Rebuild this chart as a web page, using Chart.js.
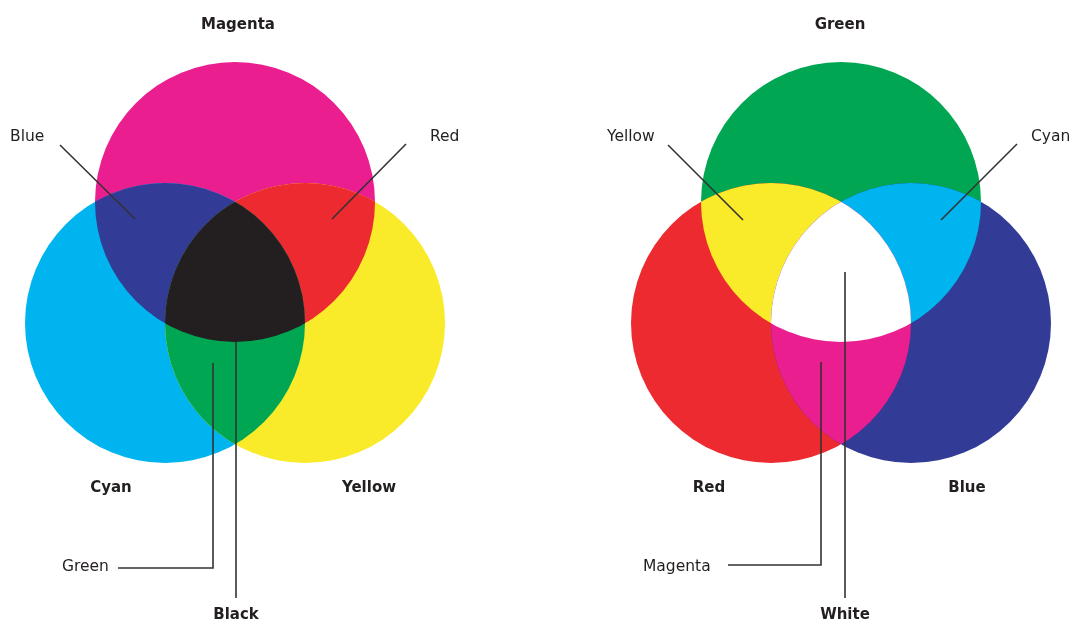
<!DOCTYPE html>
<html>
<head>
<meta charset="utf-8">
<script src="https://cdn.jsdelivr.net/npm/chart.js@4/dist/chart.umd.min.js"></script>
<style>
html,body{margin:0;padding:0;background:#fff;}
#wrap{width:1073px;height:624px;position:relative;}
</style>
</head>
<body>
<div id="wrap"><canvas id="c"></canvas></div>
<script>
// ---- Data ----
// Circles (centers and radius in chart units)
const circleNames = ['Magenta', 'Cyan', 'Yellow', 'Green', 'Red', 'Blue'];
const circleX = [235, 165, 305, 841, 771, 911];
const circleY = [202, 323, 323, 202, 323, 323];
const circleR = [140, 140, 140, 140, 140, 140];
const circleColors = ['#EA1E8E', '#00B5EF', '#F9EB2A', '#00A651', '#EC2A30', '#323B96'];

// Overlaps: indices of circles and the mixed colour
const overlapSets = [[0, 1], [0, 2], [1, 2], [0, 1, 2], [3, 4], [3, 5], [4, 5], [3, 4, 5]];
const overlapNames = ['Blue', 'Red', 'Green', 'Black', 'Yellow', 'Cyan', 'Magenta', 'White'];
const overlapColors = ['#323B96', '#EC2A30', '#00A651', '#231F20', '#F9EB2A', '#00B5EF', '#EA1E8E', '#FFFFFF'];

// Leader lines
const leaderBlue    = [{x: 60, y: 145}, {x: 135, y: 219}];
const leaderRed     = [{x: 406, y: 144}, {x: 332, y: 219}];
const leaderGreen   = [{x: 213, y: 363}, {x: 213, y: 568}, {x: 118, y: 568}];
const leaderBlack   = [{x: 236, y: 342}, {x: 236, y: 598}];
const leaderYellow  = [{x: 668, y: 145}, {x: 743, y: 220}];
const leaderCyan    = [{x: 1017, y: 144}, {x: 941, y: 220}];
const leaderMagenta = [{x: 821, y: 362}, {x: 821, y: 565}, {x: 728, y: 565}];
const leaderWhite   = [{x: 845, y: 272}, {x: 845, y: 598}];

// Text labels
const labelTexts = ['Magenta', 'Blue', 'Red', 'Cyan', 'Yellow', 'Green', 'Black',
                    'Green', 'Yellow', 'Cyan', 'Red', 'Blue', 'Magenta', 'White'];
const labelX = [238, 10, 430, 111, 369, 62, 236, 840, 607, 1031, 709, 967, 643, 845];
const labelY = [25, 137, 137, 488, 488, 567, 615, 25, 137, 137, 488, 488, 567, 615];
const labelBold = [true, false, false, true, true, false, true, true, false, false, true, true, false, true];
const labelAlign = ['center', 'left', 'left', 'center', 'center', 'left', 'center',
                    'center', 'left', 'left', 'center', 'center', 'left', 'center'];

// ---- Build ----
const bubbleData = circleNames.map((n, i) => ({x: circleX[i], y: circleY[i], r: circleR[i]}));

function circlePath(ctx, chart, i) {
  const xs = chart.scales.x, ys = chart.scales.y;
  const px = xs.getPixelForValue(circleX[i]);
  const py = ys.getPixelForValue(circleY[i]);
  const pr = xs.getPixelForValue(circleX[i] + circleR[i]) - px;
  ctx.beginPath();
  ctx.arc(px, py, pr, 0, Math.PI * 2);
}

const overlapPlugin = {
  id: 'overlaps',
  afterDatasetDraw(chart, args) {
    if (args.index !== 0) return;
    const ctx = chart.ctx;
    overlapSets.forEach((set, k) => {
      ctx.save();
      for (let j = 0; j < set.length - 1; j++) {
        circlePath(ctx, chart, set[j]);
        ctx.clip();
      }
      circlePath(ctx, chart, set[set.length - 1]);
      ctx.fillStyle = overlapColors[k];
      ctx.fill();
      ctx.restore();
    });
  }
};

const labelPlugin = {
  id: 'labels',
  afterDatasetsDraw(chart) {
    const ctx = chart.ctx;
    const xs = chart.scales.x, ys = chart.scales.y;
    ctx.save();
    ctx.fillStyle = '#231F20';
    ctx.textBaseline = 'middle';
    labelTexts.forEach((t, i) => {
      ctx.font = labelBold[i] ? 'bold 15px "DejaVu Sans", sans-serif'
                              : '15.5px "DejaVu Sans", sans-serif';
      ctx.textAlign = labelAlign[i];
      ctx.fillText(t, xs.getPixelForValue(labelX[i]), ys.getPixelForValue(labelY[i]));
    });
    ctx.restore();
  }
};

function leader(data) {
  return {
    type: 'line', data: data, showLine: true, borderColor: '#333333', borderWidth: 1.6,
    pointRadius: 0, tension: 0, fill: false, order: 0, clip: false
  };
}

new Chart(document.getElementById('c'), {
  type: 'bubble',
  data: {
    datasets: [
      {
        data: bubbleData,
        backgroundColor: circleColors,
        borderWidth: 0,
        hoverBorderWidth: 0,
        order: 10,
        clip: false
      },
      leader(leaderBlue), leader(leaderRed), leader(leaderGreen), leader(leaderBlack),
      leader(leaderYellow), leader(leaderCyan), leader(leaderMagenta), leader(leaderWhite)
    ]
  },
  options: {
    responsive: true,
    maintainAspectRatio: false,
    devicePixelRatio: 1,
    animation: false,
    events: [],
    layout: {padding: 0, autoPadding: false},
    plugins: {legend: {display: false}, tooltip: {enabled: false}},
    scales: {
      x: {type: 'linear', min: 0, max: 1073, display: false},
      y: {type: 'linear', min: 0, max: 624, reverse: true, display: false}
    }
  },
  plugins: [overlapPlugin, labelPlugin]
});
</script>
</body>
</html>
